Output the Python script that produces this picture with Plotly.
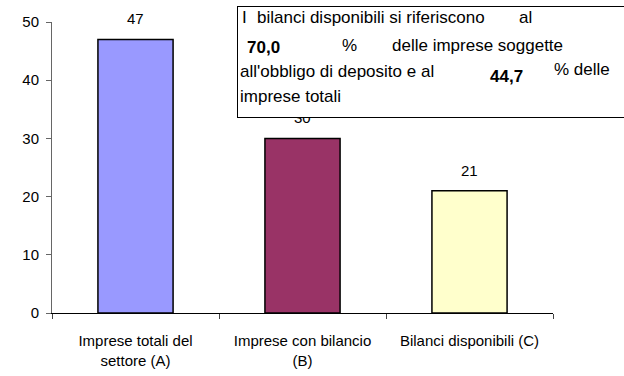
import plotly.graph_objects as go

categories = ["Imprese totali del<br>settore (A)", "Imprese con bilancio<br>(B)", "Bilanci disponibili (C)"]
values = [47, 30, 21]
bar_colors = ["#9999FF", "#993366", "#FFFFCC"]
y_ticks = [0, 10, 20, 30, 40, 50]

W, H = 624, 376
L, R, T, B = 52, 71, 22, 63
PW, PH = W - L - R, H - T - B

def px_x(x):
    return (x - L) / PW

def px_y(y):
    return (H - B - y) / PH

FONT = "Liberation Sans, Arial, sans-serif"
FS = 15
BOX_FS = 17

fig = go.Figure()
fig.add_trace(go.Bar(
    x=categories, y=values,
    marker=dict(color=bar_colors, line=dict(color="#000000", width=1.5)),
    width=0.45, hoverinfo="skip",
))

annotations = []
for c, v in zip(categories, values):
    annotations.append(dict(x=c, y=v, xref="x", yref="y", text=str(v), showarrow=False,
                            yanchor="bottom", yshift=10, font=dict(size=FS, color="#000", family=FONT)))

# text box (drawn over the labels)
annotations.append(dict(xref="paper", yref="paper", x=px_x(237), y=px_y(6), xanchor="left", yanchor="top",
                        text=" ", showarrow=False, width=392, height=110, bgcolor="#FFFFFF",
                        bordercolor="#000000", borderwidth=1, borderpad=0))

box_texts = [
    ("I", 240, 17, False),
    ("bilanci disponibili si riferiscono", 255, 17, False),
    ("al", 517, 17, False),
    ("70,0", 245, 47, True),
    ("%", 340, 45, False),
    ("delle imprese soggette", 390, 45, False),
    ("all'obbligo di deposito e al", 238, 72, False),
    ("44,7", 488, 76, True),
    ("% delle", 552, 69, False),
    ("imprese totali", 238, 97, False),
]
for t, x, y, bold in box_texts:
    annotations.append(dict(xref="paper", yref="paper", x=px_x(x), y=px_y(y), xanchor="left", yanchor="middle",
                            text=f"<b>{t}</b>" if bold else t, showarrow=False,
                            font=dict(size=BOX_FS, color="#000", family=FONT)))

fig.update_layout(
    width=W, height=H,
    margin=dict(l=L, r=R, t=T, b=B, autoexpand=False),
    paper_bgcolor="#FFFFFF", plot_bgcolor="#FFFFFF",
    showlegend=False,
    font=dict(family=FONT, size=FS, color="#000"),
    bargap=0.55,
    annotations=annotations,
    xaxis=dict(range=[-0.5, 2.5], showline=True, linecolor="#000", linewidth=1,
               ticks="outside", tickson="boundaries", ticklen=5, tickcolor="#444",
               ticklabelstandoff=14, automargin=False,
               showgrid=False, tickfont=dict(size=FS, color="#000")),
    yaxis=dict(range=[0, 50], tickvals=y_ticks, showline=True, linecolor="#666", linewidth=1,
               ticks="outside", ticklen=5, tickcolor="#666", showgrid=False, zeroline=False,
               ticklabelstandoff=4, automargin=False,
               tickfont=dict(size=FS, color="#000")),
)

fig.write_html("out.html", config={"displayModeBar": False},
               post_script="document.body.style.margin='0px';")
